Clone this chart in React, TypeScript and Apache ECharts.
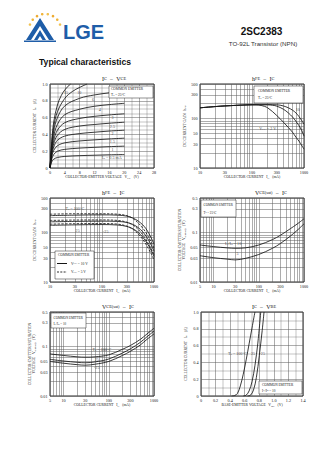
import React, { useEffect, useRef } from "react";
import * as echarts from "echarts";

const SERIF = "'Liberation Serif','DejaVu Serif',serif";
const SANS = "'Liberation Sans','DejaVu Sans',Arial,sans-serif";
const INK = "#161616";
const GRIDC = "#5a5a5a";

// ---------- Chart 1 : IC - VCE (IB in mA) ----------
const IB_LABELS = ["0.5", "1", "1.5", "2", "2.5", "3", "4", "6", "10", "15"];
const IC_IB05 = [[0, 0], [0.5, 0.075], [1, 0.105], [2, 0.125], [4, 0.138], [8, 0.147], [12, 0.152], [16, 0.157], [20, 0.16]];
const IC_IB1 = [[0, 0], [0.5, 0.11], [1, 0.16], [2, 0.2], [4, 0.222], [8, 0.237], [12, 0.246], [16, 0.254], [20, 0.26]];
const IC_IB15 = [[0, 0], [0.5, 0.14], [1, 0.21], [2, 0.265], [4, 0.3], [8, 0.322], [12, 0.335], [16, 0.346], [20, 0.355]];
const IC_IB2 = [[0, 0], [0.5, 0.165], [1, 0.25], [2, 0.33], [4, 0.38], [8, 0.41], [12, 0.426], [16, 0.44], [20, 0.45]];
const IC_IB25 = [[0, 0], [0.5, 0.19], [1, 0.29], [2, 0.39], [4, 0.46], [8, 0.5], [12, 0.518], [16, 0.533], [20, 0.545]];
const IC_IB3 = [[0, 0], [0.5, 0.21], [1, 0.33], [2, 0.45], [4, 0.54], [8, 0.59], [12, 0.615], [16, 0.632], [20, 0.645]];
const IC_IB4 = [[0, 0], [0.5, 0.24], [1, 0.38], [2, 0.52], [4, 0.635], [8, 0.7], [12, 0.735], [16, 0.755], [20, 0.77]];
const IC_IB6 = [[0, 0], [0.5, 0.27], [1, 0.44], [2, 0.6], [4, 0.74], [8, 0.83], [12, 0.87], [16, 0.895], [20, 0.915]];
const IC_IB10 = [[0, 0], [0.5, 0.3], [1, 0.49], [2, 0.67], [4, 0.83], [6, 0.91], [8, 0.96], [10, 1.0]];
const IC_IB15mA = [[0, 0], [0.5, 0.34], [1, 0.55], [2, 0.75], [3, 0.86], [4, 0.93], [5.5, 1.0]];
const IC_VCE_CURVES = [IC_IB05, IC_IB1, IC_IB15, IC_IB2, IC_IB25, IC_IB3, IC_IB4, IC_IB6, IC_IB10, IC_IB15mA];

// ---------- Chart 2 : hFE - IC (Ta = 25 °C) ----------
const HFE_VCE_LABELS = ["2", "5", "10"];
const HFE_VCE2 = [[10, 165], [20, 175], [30, 180], [50, 185], [70, 188], [100, 190], [120, 190], [150, 184], [200, 165], [300, 115], [400, 85], [500, 66], [600, 53], [700, 42], [800, 35], [1000, 24]];
const HFE_VCE5 = [[10, 165], [20, 175], [30, 180], [50, 185], [70, 188], [100, 190], [200, 190], [250, 186], [300, 178], [400, 155], [500, 130], [600, 108], [700, 88], [800, 72], [900, 58], [1000, 44]];
const HFE_VCE10 = [[10, 165], [20, 175], [30, 180], [50, 185], [70, 188], [100, 190], [200, 191], [300, 190], [400, 180], [500, 165], [600, 148], [700, 130], [800, 110], [900, 92], [1000, 77]];

// ---------- Chart 3 : hFE - IC vs Ta (solid VCE=10V, dashed VCE=5V) ----------
const TA_LABELS = ["100", "25", "-25"];
const HFE_T100_10V = [[10, 220], [30, 225], [100, 228], [200, 225], [300, 215], [400, 195], [500, 170], [600, 145], [700, 120], [800, 95], [900, 75], [1000, 58]];
const HFE_T100_5V = [[10, 235], [30, 240], [100, 240], [200, 235], [300, 220], [400, 190], [500, 155], [600, 125], [700, 100], [800, 78], [900, 62], [1000, 48]];
const HFE_T25_10V = [[10, 165], [30, 168], [100, 170], [200, 168], [300, 160], [400, 145], [500, 125], [600, 105], [700, 85], [800, 68], [900, 54], [1000, 42]];
const HFE_T25_5V = [[10, 176], [30, 179], [100, 180], [200, 176], [300, 162], [400, 140], [500, 115], [600, 92], [700, 72], [800, 57], [900, 45], [1000, 36]];
const HFE_TM25_10V = [[10, 140], [30, 143], [100, 145], [200, 142], [300, 133], [400, 118], [500, 100], [600, 82], [700, 66], [800, 53], [900, 42], [1000, 33]];
const HFE_TM25_5V = [[10, 148], [30, 151], [100, 152], [200, 148], [300, 135], [400, 115], [500, 93], [600, 74], [700, 58], [800, 45], [900, 36], [1000, 28]];

// ---------- Chart 4 : VCE(sat) - IC (Ta = 25 °C) ----------
const RATIO_LABELS = ["10", "5"];
const VSAT_R10 = [[5, 0.056], [10, 0.052], [20, 0.049], [30, 0.048], [50, 0.049], [100, 0.056], [200, 0.072], [300, 0.088], [500, 0.12], [700, 0.148], [1000, 0.19]];
const VSAT_R5 = [[5, 0.034], [10, 0.031], [20, 0.029], [30, 0.028], [50, 0.03], [100, 0.036], [200, 0.048], [300, 0.06], [500, 0.085], [700, 0.11], [1000, 0.15]];

// ---------- Chart 5 : VCE(sat) - IC vs Ta (IC/IB = 10) ----------
const VSAT_T100 = [[5, 0.071], [10, 0.066], [20, 0.062], [30, 0.061], [50, 0.062], [100, 0.068], [200, 0.088], [300, 0.105], [500, 0.14], [700, 0.18], [1000, 0.235]];
const VSAT_T25 = [[5, 0.055], [10, 0.051], [20, 0.048], [30, 0.047], [50, 0.049], [100, 0.056], [200, 0.074], [300, 0.09], [500, 0.122], [700, 0.158], [1000, 0.205]];
const VSAT_TM25 = [[5, 0.05], [10, 0.046], [20, 0.043], [30, 0.042], [50, 0.044], [100, 0.05], [200, 0.066], [300, 0.08], [500, 0.108], [700, 0.14], [1000, 0.18]];

// ---------- Chart 6 : IC - VBE ----------
const VBE_T100 = [[0.42, 0], [0.46, 0.005], [0.5, 0.03], [0.54, 0.12], [0.58, 0.26], [0.62, 0.43], [0.66, 0.62], [0.7, 0.81], [0.74, 1.0]];
const VBE_T25 = [[0.58, 0], [0.62, 0.01], [0.66, 0.06], [0.7, 0.17], [0.74, 0.36], [0.78, 0.63], [0.82, 1.0]];
const VBE_TM25 = [[0.64, 0], [0.68, 0.01], [0.72, 0.07], [0.76, 0.22], [0.8, 0.48], [0.84, 0.78], [0.865, 1.0]];

// ---------- tick values ----------
const LIN_VCE_TICKS = { min: 0, max: 28, step: 4 };
const LOG_MA_GRID = [10, 20, 30, 40, 50, 60, 70, 80, 90, 100, 200, 300, 400, 500, 600, 700, 800, 900, 1000];
const LOG_MA_LABELS = [10, 30, 100, 300, 1000];
const LOG_HFE_GRID = [10, 20, 30, 40, 50, 60, 70, 80, 90, 100, 200, 300, 400, 500];
const LOG_HFE_LABELS = [10, 30, 50, 100, 300, 500];
const LOG_MA5_GRID = [5, 6, 7, 8, 9, 10, 20, 30, 40, 50, 60, 70, 80, 90, 100, 200, 300, 400, 500, 600, 700, 800, 900, 1000];
const LOG_MA5_LABELS = [5, 10, 30, 100, 300, 1000];
const LOG_VSAT_GRID = [0.01, 0.02, 0.03, 0.04, 0.05, 0.06, 0.07, 0.08, 0.09, 0.1, 0.2, 0.3, 0.4, 0.5];
const LOG_VSAT_LABELS = [0.01, 0.03, 0.05, 0.1, 0.3, 0.5];

const GRIDS = [
  { left: 50, top: 84, width: 104, height: 84 },
  { left: 200, top: 84, width: 104, height: 84 },
  { left: 50, top: 198, width: 104, height: 84 },
  { left: 200, top: 198, width: 104, height: 84 },
  { left: 50, top: 312, width: 104, height: 84 },
  { left: 201, top: 312, width: 102, height: 84 },
];

const subRich = { s: { fontSize: 2.9, fontFamily: SERIF, fill: INK, color: INK } };
const nameStyle = { fontSize: 3.7, fontFamily: SERIF, color: INK, rich: subRich };
const labelStyle = { fontSize: 4.2, fontFamily: SERIF, color: INK, margin: 2.5 };
const splitStyle = { show: true, lineStyle: { color: GRIDC, width: 0.5 } };

function linAxis(gi: number, min: number, max: number, interval: number, minorN: number, fmt: (v: number) => string, name: string, nameGap: number, isY: boolean) {
  return {
    type: "value", gridIndex: gi, min, max, interval,
    axisLine: { show: false }, axisTick: { show: false },
    axisLabel: { ...labelStyle, formatter: fmt, showMinLabel: true, showMaxLabel: true },
    splitLine: splitStyle,
    minorTick: { show: false, splitNumber: minorN },
    minorSplitLine: { show: true, lineStyle: { color: "#6a6a6a", width: 0.4 } },
    name, nameLocation: "middle", nameGap, nameRotate: isY ? 90 : 0, nameTextStyle: nameStyle,
  };
}

function logAxis(gi: number, min: number, max: number, grid: number[], labels: number[], name: string, nameGap: number, isY: boolean) {
  return {
    type: "log", logBase: 10, gridIndex: gi, min, max,
    axisLine: { show: false },
    axisTick: { show: false, customValues: grid },
    axisLabel: { ...labelStyle, customValues: labels, formatter: (v: number) => String(+Number(v).toPrecision(6)) },
    splitLine: splitStyle,
    name, nameLocation: "middle", nameGap, nameRotate: isY ? 90 : 0, nameTextStyle: nameStyle,
  };
}

function curve(data: number[][], gi: number, dashed = false) {
  return {
    type: "line", xAxisIndex: gi, yAxisIndex: gi, data, symbol: "none", showSymbol: false,
    smooth: 0.35, silent: true, clip: true, z: 3,
    lineStyle: { color: INK, width: 0.85, type: dashed ? [2.4, 1.4] : "solid" },
  };
}

function tags(gi: number, items: [number, number, string][]) {
  return {
    type: "scatter", xAxisIndex: gi, yAxisIndex: gi, silent: true, z: 5,
    symbol: "circle", symbolSize: 1, itemStyle: { color: "rgba(0,0,0,0)" },
    data: items.map(([x, y, t]) => ({ value: [x, y], name: t })),
    label: { show: true, position: "inside", formatter: "{b}", color: INK, fontSize: 4.1, fontFamily: SERIF, rich: subRich },
  };
}

const fmt1 = (v: number) => (v === 0 ? "0" : v.toFixed(1));
const fmt0 = (v: number) => String(v);

function txt(x: number, y: number, text: string, size: number, opts: any = {}) {
  return {
    type: "text", x, y, z: 101,
    style: {
      text, fill: opts.fill || INK, fontSize: size, fontFamily: opts.family || SERIF, fontWeight: opts.weight || "normal",
      align: opts.align || "left", verticalAlign: "middle",
      rich: { s: { fontSize: size * 0.72, fontFamily: opts.family || SERIF, fill: opts.fill || INK }, i: { fontSize: size, fontFamily: opts.family || SERIF, fill: opts.fill || INK } },
    },
  };
}

function box(x: number, y: number, w: number, h: number) {
  return { type: "rect", z: 100, shape: { x, y, width: w, height: h }, style: { fill: "#fff", stroke: "#222", lineWidth: 0.5 } };
}

function buildOption() {
  const series: any[] = [];
  IC_VCE_CURVES.forEach((c) => series.push(curve(c, 0)));
  series.push(tags(0, [
    [4.3, 0.9, IB_LABELS[9]], [7.9, 0.9, IB_LABELS[8]], [11.6, 0.82, IB_LABELS[7]], [13.4, 0.7, IB_LABELS[6]],
    [16.8, 0.6, IB_LABELS[5]], [16.8, 0.5, IB_LABELS[4]], [16.8, 0.41, IB_LABELS[3]], [16.8, 0.31, IB_LABELS[2]],
    [16.8, 0.22, IB_LABELS[1]], [16.6, 0.12, `I{s|B} = ${IB_LABELS[0]} mA`],
  ]));
  [HFE_VCE2, HFE_VCE5, HFE_VCE10].forEach((c) => series.push(curve(c, 1)));
  series.push(tags(1, [[200, 62, `V{s|CE} = ${HFE_VCE_LABELS[0]} V`], [540, 92, HFE_VCE_LABELS[1]], [760, 150, HFE_VCE_LABELS[2]]]));
  series.push(curve(HFE_T100_10V, 2), curve(HFE_T100_5V, 2, true), curve(HFE_T25_10V, 2), curve(HFE_T25_5V, 2, true), curve(HFE_TM25_10V, 2), curve(HFE_TM25_5V, 2, true));
  series.push(tags(2, [[30, 300, `T{s|a} = ${TA_LABELS[0]}°C`], [34, 112, TA_LABELS[1]], [118, 104, TA_LABELS[2]]]));
  series.push(curve(VSAT_R10, 3), curve(VSAT_R5, 3));
  series.push(tags(3, [[27, 0.06, `I{s|C}/I{s|B} = ${RATIO_LABELS[0]}`], [34, 0.038, RATIO_LABELS[1]]]));
  series.push(curve(VSAT_T100, 4), curve(VSAT_T25, 4), curve(VSAT_TM25, 4));
  series.push(tags(4, [[70, 0.086, `T{s|a} = ${TA_LABELS[0]}°C`], [54, 0.055, TA_LABELS[1]], [54, 0.037, TA_LABELS[2]]]));
  series.push(curve(VBE_T100, 5), curve(VBE_T25, 5), curve(VBE_TM25, 5));
  series.push(tags(5, [[0.5, 0.51, `T{s|a} = ${TA_LABELS[0]}°C`], [0.715, 0.51, TA_LABELS[1]], [0.84, 0.51, TA_LABELS[2]]]));

  const xAxis = [
    linAxis(0, LIN_VCE_TICKS.min, LIN_VCE_TICKS.max, LIN_VCE_TICKS.step, 2, fmt0, "COLLECTOR-EMITTER VOLTAGE   V{s|CE}   (V)", 7, false),
    logAxis(1, 10, 1000, LOG_MA_GRID, LOG_MA_LABELS, "COLLECTOR CURRENT   I{s|C}   (mA)", 7, false),
    logAxis(2, 10, 1000, LOG_MA_GRID, LOG_MA_LABELS, "COLLECTOR CURRENT   I{s|C}   (mA)", 7, false),
    logAxis(3, 5, 1000, LOG_MA5_GRID, LOG_MA5_LABELS, "COLLECTOR CURRENT   I{s|C}   (mA)", 7, false),
    logAxis(4, 5, 1000, LOG_MA5_GRID, LOG_MA5_LABELS, "COLLECTOR CURRENT   I{s|C}   (mA)", 7, false),
    linAxis(5, 0, 1.4, 0.2, 2, fmt1, "BASE-EMITTER VOLTAGE   V{s|BE}   (V)", 7, false),
  ];
  const yAxis = [
    linAxis(0, 0, 1, 0.2, 4, fmt1, "COLLECTOR CURRENT   I{s|C}   (A)", 13, true),
    logAxis(1, 10, 500, LOG_HFE_GRID, LOG_HFE_LABELS, "DC CURRENT GAIN   h{s|FE}", 13, true),
    logAxis(2, 10, 500, LOG_HFE_GRID, LOG_HFE_LABELS, "DC CURRENT GAIN   h{s|FE}", 13, true),
    logAxis(3, 0.01, 0.5, LOG_VSAT_GRID, LOG_VSAT_LABELS, "COLLECTOR-EMITTER SATURATION\nVOLTAGE   V{s|CE(sat)}   (V)", 11, true),
    logAxis(4, 0.01, 0.5, LOG_VSAT_GRID, LOG_VSAT_LABELS, "COLLECTOR-EMITTER SATURATION\nVOLTAGE   V{s|CE(sat)}   (V)", 11, true),
    linAxis(5, 0, 1, 0.2, 2, fmt1, "COLLECTOR CURRENT   I{s|C}   (A)", 13, true),
  ];

  // logo dots along an arc
  const dots: any[] = [];
  const dotColors = ["#f2c14e", "#f0b43a", "#eeaa2e", "#f0b43a", "#f2c14e", "#eeaa2e", "#f0b43a", "#f2c14e"];
  for (let k = 0; k < 8; k++) {
    const a = ((160 - k * 20) * Math.PI) / 180;
    dots.push({ type: "circle", z: 50, shape: { cx: 45 + 16 * Math.cos(a), cy: 30 - 16 * Math.sin(a), r: 1.3 }, style: { fill: dotColors[k] } });
  }
  const BLUE = "#1e5da8";

  const graphic: any[] = [
    ...dots,
    { type: "polygon", z: 50, shape: { points: [[26, 40], [40, 18], [54, 40], [49, 40], [40, 26], [31, 40]] }, style: { fill: BLUE } },
    { type: "polygon", z: 50, shape: { points: [[34, 40], [40, 30], [46, 40], [42.5, 40], [40, 36], [37.5, 40]] }, style: { fill: BLUE } },
    { type: "polygon", z: 50, shape: { points: [[24, 40.5], [56, 40.5], [56, 42], [24, 42]] }, style: { fill: BLUE } },
    txt(63, 32, "LGE", 20, { family: SANS, weight: "bold", fill: BLUE }),
    txt(261.5, 31, "2SC2383", 10, { family: SANS, weight: "bold", align: "center", fill: "#111" }),
    txt(263, 43, "TO-92L Transistor (NPN)", 6.2, { family: SANS, align: "center", fill: "#333" }),
    txt(39, 62, "Typical characteristics", 8.6, { family: SANS, weight: "bold", fill: "#111" }),
    // chart titles
    txt(102, 78.5, "{i|I}{s|C}{i|  −  V}{s|CE}", 6),
    txt(252, 78.5, "{i|h}{s|FE}{i|  −  I}{s|C}", 6),
    txt(102, 192.5, "{i|h}{s|FE}{i|  −  I}{s|C}", 6),
    txt(255, 192.5, "{i|V}{s|CE(sat)}{i|  −  I}{s|C}", 6),
    txt(102, 306.5, "{i|V}{s|CE(sat)}{i|  −  I}{s|C}", 6),
    txt(252, 306.5, "{i|I}{s|C}{i|  −  V}{s|BE}", 6),
    // chart 1 box
    box(109, 86, 44, 12),
    txt(111, 89.3, "COMMON EMITTER", 3.5),
    txt(111, 95, "{i|T}{s|a}{i| = 25°C}", 3.5),
    // chart 2 box
    box(254, 86, 49, 17),
    txt(258, 91, "COMMON EMITTER", 3.5),
    txt(258, 98, "{i|T}{s|a}{i| = 25°C}", 3.5),
    // chart 3 legend
    box(55, 251, 39, 28),
    txt(58, 255, "COMMON EMITTER", 3.4),
    { type: "line", z: 102, shape: { x1: 57, y1: 263.5, x2: 67, y2: 263.5 }, style: { stroke: INK, lineWidth: 1 } },
    txt(71, 263.5, "{i|V}{s|CE}{i| = 10 V}", 3.6),
    { type: "line", z: 102, shape: { x1: 57, y1: 272, x2: 67, y2: 272 }, style: { stroke: INK, lineWidth: 0.9, lineDash: [2, 1.3] } },
    txt(71, 272, "{i|V}{s|CE}{i| = 5 V}", 3.6),
    // chart 4 box
    box(201, 200, 35, 17),
    txt(203.5, 205, "COMMON EMITTER", 3.2),
    txt(203.5, 212.5, "{i|T}{s|a}{i| = 25°C}", 3.2),
    // chart 5 box
    box(51, 313, 35, 15),
    txt(53.5, 317.5, "COMMON EMITTER", 3.2),
    txt(53.5, 324, "{i|I}{s|C}{i|/I}{s|B}{i| = 10}", 3.2),
    // chart 6 box
    box(259, 381, 43, 13),
    txt(262, 384.5, "COMMON EMITTER", 3.4),
    txt(262, 390.5, "{i|I}{s|C}{i|/I}{s|B}{i| = 10}", 3.4),
  ];

  return {
    animation: false,
    backgroundColor: "#ffffff",
    grid: GRIDS.map((g) => ({ ...g, show: true, borderColor: "#111", borderWidth: 0.9, backgroundColor: "#fff", containLabel: false })),
    xAxis, yAxis, series, graphic,
  };
}

export default function App() {
  const ref = useRef<HTMLDivElement>(null);
  useEffect(() => {
    document.body.style.margin = "0";
    const chart = echarts.init(ref.current!, undefined, { renderer: "svg", width: 336, height: 475 });
    chart.setOption(buildOption() as any);
    return () => chart.dispose();
  }, []);
  return <div ref={ref} style={{ position: "absolute", left: 0, top: 0, width: 336, height: 475, background: "#fff" }} />;
}
